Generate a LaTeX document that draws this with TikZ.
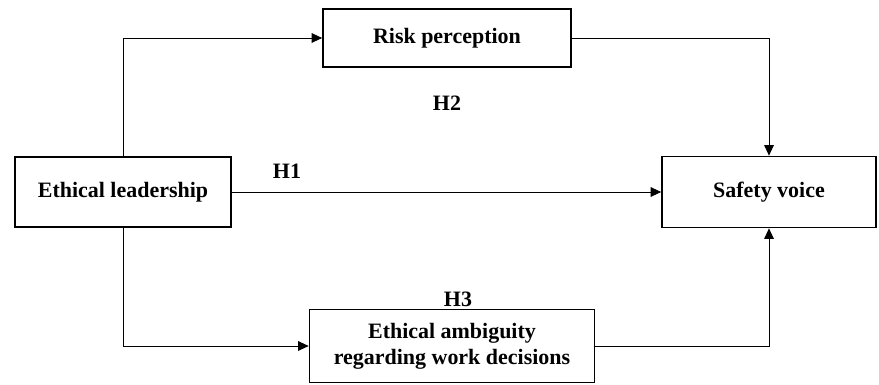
\documentclass[tikz,border=0pt]{standalone}
\usepackage{fontspec}
\setmainfont{Liberation Serif}
\usetikzlibrary{arrows.meta}

\begin{document}
\begin{tikzpicture}[x=0.02cm, y=-0.02cm,
    boite/.style={draw, line width=1pt, align=center, inner sep=0pt,
        font=\fontsize{12.5}{15}\selectfont\bfseries},
    hyp/.style={font=\fontsize{12.5}{15}\selectfont\bfseries},
    fleche/.style={line width=0.5pt, -{Triangle[length=6pt, width=5.5pt]}}]
% cadre de la figure (879 x 385)
\useasboundingbox (0,0) rectangle (879,385);

% Les quatre cases
\node[boite, minimum width=4.32cm, minimum height=1.4cm] (lead) at (123,192) {Ethical leadership};
\node[boite, minimum width=4.96cm, minimum height=1.16cm] (risk) at (447,38) {Risk perception};
\node[boite, minimum width=4.28cm, minimum height=1.42cm] (voice) at (769,192) {Safety voice};
\node[boite, minimum width=5.7cm, minimum height=1.46cm] (ambig) at (452,346) {Ethical ambiguity\\regarding work decisions};

% Hypotheses
\node[hyp] (h1) at (287,171) {H1};
\node[hyp] (h2) at (447,103) {H2};
\node[hyp] (h3) at (458,299) {H3};

% Les fleches
\draw[fleche] (lead.north) |- (risk.west);
\draw[fleche] (risk.east) -| (voice.north);
\draw[fleche] (lead.east) -- (voice.west);
\draw[fleche] (lead.south) |- (ambig.west);
\draw[fleche] (ambig.east) -| (voice.south);
\end{tikzpicture}
\end{document}
